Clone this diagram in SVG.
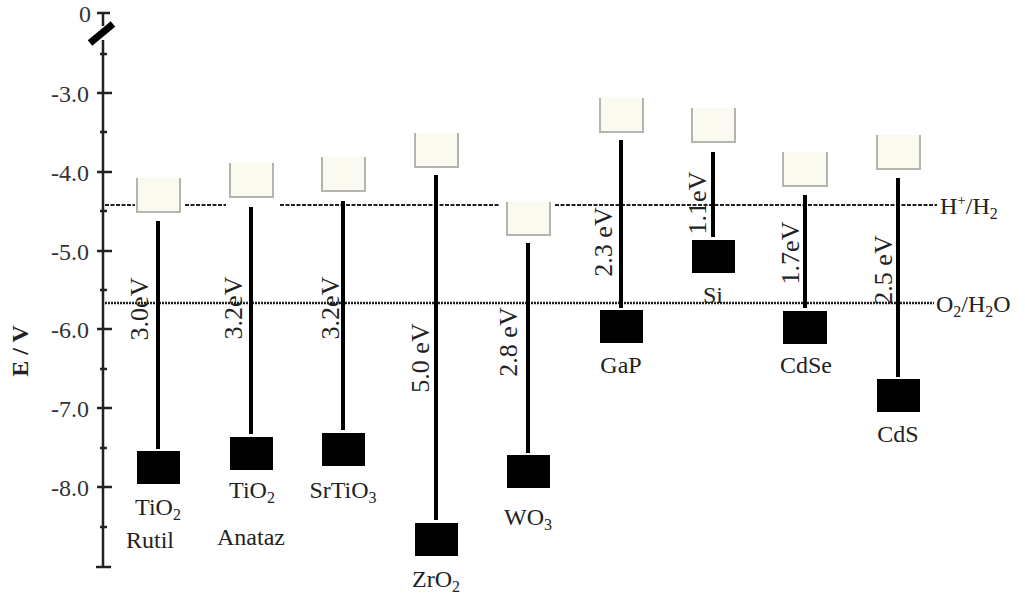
<svg xmlns="http://www.w3.org/2000/svg" width="1025" height="601" viewBox="0 0 1025 601">
<style>
text{font-family:"Liberation Serif","Times New Roman",serif;fill:#222;font-size:24px}
.tick{fill:#333;text-anchor:end}
.lab{text-anchor:middle}
.gap{text-anchor:middle;font-size:26px}
.cb{fill:#fbfaf0}
.cbb{fill:none;stroke:#b5b5ad;stroke-width:2}
.vb{fill:#000}
.bar{stroke:#000;stroke-width:4}
.ax{stroke:#222;stroke-width:2.5;fill:none}
.hl{stroke:#222;stroke-width:2;stroke-dasharray:4 1.5;fill:none}
.ol{stroke:#222;stroke-width:2.5;stroke-dasharray:2 1;fill:none}
</style>
<rect width="1025" height="601" fill="#fff"/>
<g id="axis">
<path class="ax" d="M103 13V26M103 40V567"/>
<line x1="90" y1="43" x2="113" y2="24" stroke="#000" stroke-width="7"/>
<path class="ax" d="M97 13H110M97 93H112M97 172H112M97 251H112M97 329H112M97 408H112M97 487H112M96 567H111"/>
<path class="ax" d="M100 54H107M100 132H107M100 211H107M100 290H107M100 369H107M100 448H107M100 527H107"/>
<text class="tick" x="91" y="22">0</text>
<text class="tick" x="89" y="102">-3.0</text>
<text class="tick" x="89" y="181">-4.0</text>
<text class="tick" x="89" y="260">-5.0</text>
<text class="tick" x="89" y="338">-6.0</text>
<text class="tick" x="89" y="417">-7.0</text>
<text class="tick" x="89" y="496">-8.0</text>
<text transform="translate(28,351) rotate(-90)" text-anchor="middle" font-weight="bold" font-size="21">E / V</text>
</g>
<g id="connectors">
<path class="hl" d="M105 205H135M185 205H226M280 205H500M555 205H937"/>
<path class="ol" d="M105 303H934"/>
<line class="bar" x1="158" y1="221" x2="158" y2="449"/>
<line class="bar" x1="251" y1="207" x2="251" y2="434"/>
<line class="bar" x1="343" y1="201" x2="343" y2="430"/>
<line class="bar" x1="436" y1="175" x2="436" y2="520"/>
<line class="bar" x1="528" y1="243" x2="528" y2="453"/>
<line class="bar" x1="621" y1="140" x2="621" y2="308"/>
<line class="bar" x1="713" y1="152" x2="713" y2="237"/>
<line class="bar" x1="805" y1="195" x2="805" y2="308"/>
<line class="bar" x1="898" y1="178" x2="898" y2="377"/>
</g>
<g id="refs">
<text x="940" y="214">H<tspan dy="-9" font-size="15">+</tspan><tspan dy="9">/H</tspan><tspan dy="5" font-size="16">2</tspan></text>
<text x="936" y="312">O<tspan dy="5" font-size="16">2</tspan><tspan dy="-5">/H</tspan><tspan dy="5" font-size="16">2</tspan><tspan dy="-5">O</tspan></text>
</g>
<g id="rutil">
<rect class="cb" x="137" y="178" width="43" height="34"/><path class="cbb" d="M137 178V212H180V178"/>
<rect class="vb" x="137" y="451" width="43" height="33"/>
<text class="gap" transform="translate(148,309) rotate(-90)">3.0eV</text>
<text class="lab" x="158" y="515">TiO<tspan dy="5" font-size="16">2</tspan></text>
<text class="lab" x="150" y="548">Rutil</text>
</g>
<g id="anatase">
<rect class="cb" x="230" y="163" width="43" height="34"/><path class="cbb" d="M230 163V197H273V163"/>
<rect class="vb" x="230" y="437" width="43" height="33"/>
<text class="gap" transform="translate(242,308) rotate(-90)">3.2eV</text>
<text class="lab" x="252" y="498">TiO<tspan dy="5" font-size="16">2</tspan></text>
<text class="lab" x="251" y="545">Anataz</text>
</g>
<g id="srtio3">
<rect class="cb" x="322" y="157" width="43" height="34"/><path class="cbb" d="M322 157V191H365V157"/>
<rect class="vb" x="322" y="433" width="43" height="33"/>
<text class="gap" transform="translate(339,308) rotate(-90)">3.2eV</text>
<text class="lab" x="343" y="498">SrTiO<tspan dy="5" font-size="16">3</tspan></text>
</g>
<g id="zro2">
<rect class="cb" x="415" y="133" width="43" height="34"/><path class="cbb" d="M415 133V167H458V133"/>
<rect class="vb" x="415" y="523" width="43" height="33"/>
<text class="gap" transform="translate(429,358) rotate(-90)">5.0 eV</text>
<text class="lab" x="436" y="587">ZrO<tspan dy="5" font-size="16">2</tspan></text>
</g>
<g id="wo3">
<rect class="cb" x="507" y="202" width="43" height="33"/><path class="cbb" d="M507 202V235H550V202"/>
<rect class="vb" x="507" y="455" width="43" height="33"/>
<text class="gap" transform="translate(517,342) rotate(-90)">2.8 eV</text>
<text class="lab" x="528" y="525">WO<tspan dy="5" font-size="16">3</tspan></text>
</g>
<g id="gap">
<rect class="cb" x="600" y="98" width="43" height="34"/><path class="cbb" d="M600 98V132H643V98"/>
<rect class="vb" x="600" y="310" width="43" height="33"/>
<text class="gap" transform="translate(612,242) rotate(-90)">2.3 eV</text>
<text class="lab" x="621" y="373">GaP</text>
</g>
<g id="si">
<rect class="cb" x="692" y="108" width="43" height="34"/><path class="cbb" d="M692 108V142H735V108"/>
<rect class="vb" x="692" y="240" width="43" height="33"/>
<text class="gap" transform="translate(706,203) rotate(-90)">1.1eV</text>
<text class="lab" x="713" y="303">Si</text>
</g>
<g id="cdse">
<rect class="cb" x="783" y="152" width="44" height="34"/><path class="cbb" d="M783 152V186H827V152"/>
<rect class="vb" x="783" y="311" width="44" height="33"/>
<text class="gap" transform="translate(799,253) rotate(-90)">1.7eV</text>
<text class="lab" x="806" y="373">CdSe</text>
</g>
<g id="cds">
<rect class="cb" x="877" y="135" width="43" height="34"/><path class="cbb" d="M877 135V169H920V135"/>
<rect class="vb" x="877" y="379" width="43" height="33"/>
<text class="gap" transform="translate(892,270) rotate(-90)">2.5 eV</text>
<text class="lab" x="898" y="442">CdS</text>
</g>
</svg>
